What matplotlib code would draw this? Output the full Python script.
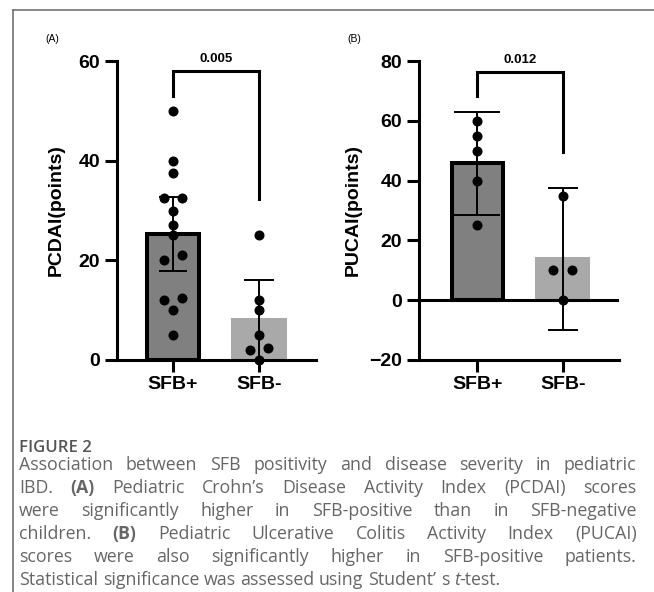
import matplotlib
matplotlib.use('Agg')
import matplotlib.pyplot as plt
import numpy as np
from matplotlib.lines import Line2D

# ---------------- data ----------------
categories = ['SFB+', 'SFB-']
pcdai_pos = [50, 40, 37.5, 32.5, 32.5, 30, 27, 25, 21, 20, 12.5, 12, 10, 5]
pcdai_neg = [25, 12, 10, 5, 2.5, 2, 0]
pcdai_mean = [25.3, 8.0]
pcdai_ci = [7.4, 8.0]
pucai_pos = [60, 55, 50, 40, 25]
pucai_neg = [35, 10, 10, 0]
pucai_mean = [45.8, 13.7]
pucai_ci = [17.2, 23.7]
p_values = ['0.005', '0.012']
pcdai_yticks = [0, 20, 40, 60]
pucai_yticks = [-20, 0, 20, 40, 60, 80]
pcdai_bracket = [53, 58, 32.3]   # left end, top, right end
pucai_bracket = [68.3, 76.4, 49.4]

caption_title = 'FIGURE 2'
caption_lines = [
    [[('Association', 'n')], [('between', 'n')], [('SFB', 'n')], [('positivity', 'n')], [('and', 'n')],
     [('disease', 'n')], [('severity', 'n')], [('in', 'n')], [('pediatric', 'n')]],
    [[('IBD.', 'n')], [('(A)', 'b')], [('Pediatric', 'n')], [('Crohn’s', 'n')], [('Disease', 'n')],
     [('Activity', 'n')], [('Index', 'n')], [('(PCDAI)', 'n')], [('scores', 'n')]],
    [[('were', 'n')], [('significantly', 'n')], [('higher', 'n')], [('in', 'n')], [('SFB-positive', 'n')],
     [('than', 'n')], [('in', 'n')], [('SFB-negative', 'n')]],
    [[('children.', 'n')], [('(B)', 'b')], [('Pediatric', 'n')], [('Ulcerative', 'n')], [('Colitis', 'n')],
     [('Activity', 'n')], [('Index', 'n')], [('(PUCAI)', 'n')]],
    [[('scores', 'n')], [('were', 'n')], [('also', 'n')], [('significantly', 'n')], [('higher', 'n')],
     [('in', 'n')], [('SFB-positive', 'n')], [('patients.', 'n')]],
    [[('Statistical', 'n')], [('significance', 'n')], [('was', 'n')], [('assessed', 'n')], [('using', 'n')],
     [('Student’', 'n')], [('s', 'n')], [('t', 'i'), ('-test.', 'n')]],
]

# ---------------- figure ----------------
W, H = 654, 592
plt.rcParams['font.family'] = ['Liberation Sans', 'DejaVu Sans']
fig = plt.figure(figsize=(W / 100, H / 100), dpi=100)


def rect(l, r, t, b):
    return [l / W, 1 - b / H, (r - l) / W, (b - t) / H]


def fx(x):
    return x / W


def fy(y):
    return 1 - y / H


axA = fig.add_axes(rect(117, 316, 61, 360))
axB = fig.add_axes(rect(419, 619, 61, 360))
axA.set_xlim(-0.651, 1.663)
axA.set_ylim(0, 60)
axB.set_xlim(-0.683, 1.659)
axB.set_ylim(-20, 80)

LW = 2.2
bar_colors = ['#808080', '#a9a9a9']
edge_colors = ['black', '#a9a9a9']


def swarm(vals, thr, dx):
    vals = list(vals)
    order = sorted(range(len(vals)), key=lambda i: vals[i])
    offs = [0.0] * len(vals)
    groups = []
    for i in order:
        if groups and vals[i] - vals[groups[-1][0]] < thr:
            groups[-1].append(i)
        else:
            groups.append([i])
    for g in groups:
        k = len(g)
        for j, i in enumerate(g):
            offs[i] = (j - (k - 1) / 2) * dx
    return np.array(offs)


def panel(ax, groups, means, cis, yticks, ylabel, bracket, ptxt, caps, ylab_x):
    x = np.arange(len(categories))
    for i in range(len(categories)):
        ax.bar(x[i], means[i], width=0.6, color=bar_colors[i], edgecolor=edge_colors[i],
               linewidth=2.9, zorder=2)
    for i in range(len(categories)):
        ax.errorbar(x[i], means[i], yerr=cis[i], fmt='none', ecolor='black', elinewidth=1.4,
                    capsize=caps[i], capthick=1.4, zorder=3)
    y0, y1 = ax.get_ylim()
    pxu = ax.get_position().height * H / (y1 - y0)
    thr = 8.0 / pxu
    for i, vals in enumerate(groups):
        offs = swarm(vals, thr, 0.22)
        ax.plot(x[i] + offs, vals, 'o', color='black', ms=6.2, zorder=5, clip_on=False)
    if y0 < 0:
        ax.axhline(0, color='black', lw=LW, zorder=4)
    for s in ['top', 'right']:
        ax.spines[s].set_visible(False)
    for s in ['left', 'bottom']:
        ax.spines[s].set_linewidth(LW)
    ax.set_yticks(yticks)
    ax.set_xticks(x)
    ax.set_xticklabels(categories)
    ax.tick_params(axis='both', width=LW, length=8.5, labelsize=14)
    ax.tick_params(axis='y', pad=3.5)
    ax.tick_params(axis='x', pad=3)
    for lbl in ax.get_xticklabels() + ax.get_yticklabels():
        lbl.set_fontweight('bold')
    ax.text(ylab_x, 0.5, ylabel, rotation=90, ha='center', va='center', fontsize=14,
            fontweight='bold', transform=ax.transAxes)
    bl, bt, br = bracket
    ax.plot([x[0], x[0], x[1], x[1]], [bl, bt, bt, br], color='black', lw=LW,
            solid_joinstyle='miter', clip_on=False, zorder=6)
    ax.annotate(ptxt, xy=((x[0] + x[1]) / 2, bt), xytext=(0, 4), textcoords='offset points',
                ha='center', va='bottom', fontsize=9.5, fontweight='bold')


panel(axA, [pcdai_pos, pcdai_neg], pcdai_mean, pcdai_ci, pcdai_yticks, 'PCDAI(points)',
      pcdai_bracket, p_values[0], [10, 10.8], -0.303)
panel(axB, [pucai_pos, pucai_neg], pucai_mean, pucai_ci, pucai_yticks, 'PUCAI(points)',
      pucai_bracket, p_values[1], [16.8, 10.8], -0.3285)

fig.text(fx(45), fy(39), '(A)', fontsize=7.5, ha='left', va='center')
fig.text(fx(347), fy(39), '(B)', fontsize=7.5, ha='left', va='center')

# frame
fig.add_artist(Line2D([fx(13), fx(13)], [fy(9.5), fy(592)], color='#666666', lw=1.1,
                      transform=fig.transFigure))
fig.add_artist(Line2D([fx(13), fx(654)], [fy(9.5), fy(9.5)], color='#666666', lw=1.1,
                      transform=fig.transFigure))

# ---------------- caption (justified) ----------------
CAP_FONT = ['Open Sans', 'DejaVu Sans']
CAP_COLOR = '#666666'
rend = fig.canvas.get_renderer()
styles = {'n': dict(weight='normal', style='normal'),
          'b': dict(weight='bold', style='normal'),
          'i': dict(weight='normal', style='italic')}


def width(s, st, size):
    t = fig.text(0, 0, s, fontsize=size, family=CAP_FONT, **styles[st])
    w = t.get_window_extent(rend).width
    t.remove()
    return w


def line_natural(words, size):
    sp = width('a a', 'n', size) - width('aa', 'n', size)
    ws = [sum(width(s, st, size) for s, st in w) for w in words]
    return ws, sp


base = 11.0
cap_size = base * 94.0 / width('Association', 'n', base)

left, right = 19.0, 636.5
baselines = [470, 493, 516, 539, 562, 585]
fig.text(fx(left), fy(451.5), caption_title, fontsize=cap_size * 0.95, family=CAP_FONT,
         weight='semibold', color='#555555', ha='left', va='baseline')
for li, words in enumerate(caption_lines):
    ws, sp = line_natural(words, cap_size)
    if li < len(caption_lines) - 1:
        gap = (right - left - sum(ws)) / (len(ws) - 1)
    else:
        gap = sp
    xpos = left
    for w, wd in zip(words, ws):
        xx = xpos
        for s, st in w:
            fig.text(fx(xx), fy(baselines[li]), s, fontsize=cap_size, family=CAP_FONT,
                     color=CAP_COLOR, ha='left', va='baseline', **styles[st])
            xx += width(s, st, cap_size)
        xpos += wd + gap

fig.savefig('out.png', dpi=100)
